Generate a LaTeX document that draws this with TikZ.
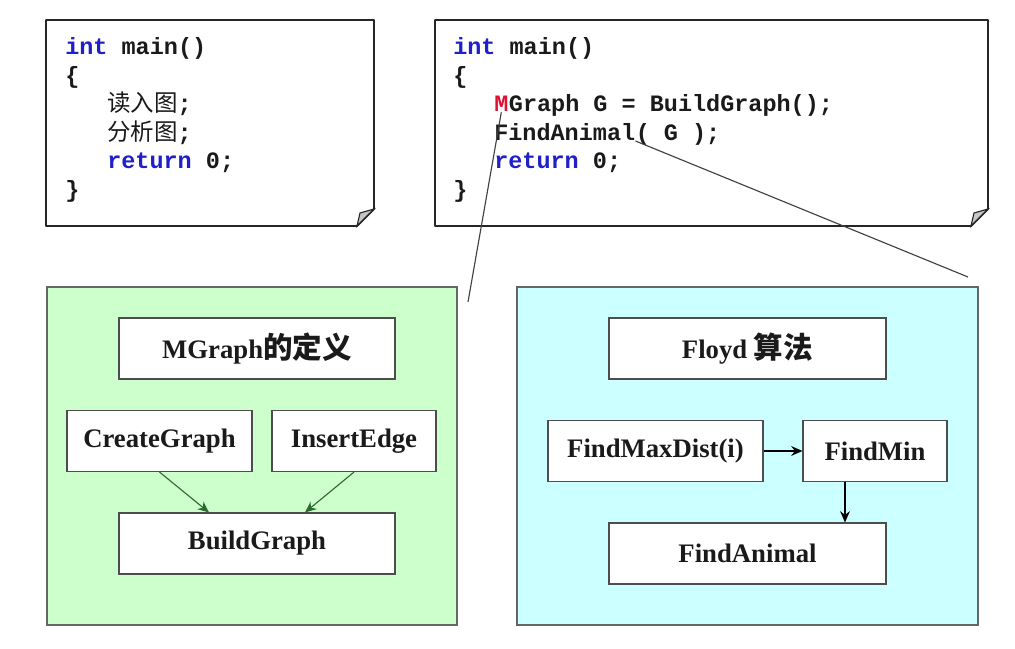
\documentclass[tikz,border=0pt]{standalone}
\usepackage{fontspec}
\setmainfont{Liberation Serif}
\setmonofont{Liberation Mono}
\newfontfamily\cjk{Noto Sans CJK SC}
\usepackage[HTML]{xcolor}
\usepackage{tikz}
\usetikzlibrary{positioning, arrows.meta}

\definecolor{panelgreen}{HTML}{CCFFCC}
\definecolor{panelcyan}{HTML}{CCFFFF}
\definecolor{kwblue}{HTML}{2020C8}
\definecolor{mred}{HTML}{E01030}
\definecolor{arrowgreen}{HTML}{2E6B2E}

\newcommand{\kw}[1]{\textcolor{kwblue}{#1}}
\newcommand{\zh}[1]{{\cjk\fontsize{21pt}{21pt}\selectfont #1}}

\begin{document}
\begin{tikzpicture}[x=0.025cm, y=-0.025cm,
    codebox/.style={draw=black!85, line width=1.3pt, fill=white, line join=round},
    fold/.style={draw=black!85, line width=0.8pt, fill=gray!45},
    codeline/.style={anchor=base west, inner sep=0pt, text=black!90,
        font=\ttfamily\bfseries\fontsize{16.7pt}{20pt}\selectfont},
    panel/.style={draw=black!60, line width=0.8pt},
    modbox/.style={draw=black!70, line width=0.8pt, fill=white, inner sep=0pt,
        minimum height=1.525cm, text=black!90,
        font=\bfseries\fontsize{19pt}{21pt}\selectfont},
    lead/.style={draw=black!75, line width=0.8pt},
    flow/.style={-{Stealth[length=8pt,width=7pt]}, line width=0.8pt}]

\fill[white] (0,0) rectangle (1015,649);
\useasboundingbox (0,0) rectangle (1015,649);

% Left code sheet
\draw[codebox] (46,20) -- (374,20) -- (374,209) -- (357,226) -- (46,226) -- cycle;
\draw[fold] (374,209) .. controls (367,211) .. (360,213) .. controls (359,219) .. (357,226) -- cycle;
\node[codeline] (a1) at (65,55) {\kw{int} main()};
\node[codeline] (a2) at (65,84) {\{};
\node[codeline] (a3) at (107,112) {{\cjk\mdseries 读入图};};
\node[codeline] (a4) at (107,141) {{\cjk\mdseries 分析图};};
\node[codeline] (a5) at (107,169) {\kw{return} 0;};
\node[codeline] (a6) at (65,198) {\}};

% Right code sheet
\draw[codebox] (435,20) -- (988,20) -- (988,209) -- (971,226) -- (435,226) -- cycle;
\draw[fold] (988,209) .. controls (981,211) .. (974,213) .. controls (973,219) .. (971,226) -- cycle;
\node[codeline] (b1) at (453,55) {\kw{int} main()};
\node[codeline] (b2) at (453,84) {\{};
\node[codeline] (mM) at (494,112) {\textcolor{mred}{M}};
\node[codeline] (b3) at (mM.base east) {Graph G = BuildGraph();};
\node[codeline] (fa) at (494,141) {FindAnimal};
\node[codeline] (b4) at (fa.base east) {( G );};
\node[codeline] (b5) at (494,169) {\kw{return} 0;};
\node[codeline] (b6) at (453,198) {\}};

% Green panel: the graph
\draw[panel, fill=panelgreen] (47,287) rectangle (457,625);
\node[modbox, minimum width=6.9cm] (defn) at (257,348.5) {MGraph\zh{的定义}};
\node[modbox, minimum width=4.625cm] (create) at (159.5,441) {CreateGraph};
\node[modbox, minimum width=4.1cm] (insert) at (354,441) {InsertEdge};
\node[modbox, minimum width=6.9cm] (build) at (257,543.5) {BuildGraph};
\draw[flow, arrowgreen] (create.south) -- ([xshift=-1.2cm]build.north);
\draw[flow, arrowgreen] (insert.south) -- ([xshift=1.2cm]build.north);

% Cyan panel: the search
\draw[panel, fill=panelcyan] (517,287) rectangle (978,625);
\node[modbox, minimum width=6.925cm] (floyd) at (747.5,348.5) {Floyd \zh{算法}};
\node[modbox, minimum width=5.375cm] (maxdist) at (655.5,451) {FindMaxDist(i)};
\node[modbox, minimum width=3.6cm] (findmin) at (875,451) {FindMin};
\node[modbox, minimum width=6.925cm] (animal) at (747.5,553.5) {FindAnimal};
\draw[flow] (maxdist.east) -- (findmin.west);
\draw[flow] ([xshift=-0.75cm]findmin.south) -- ([xshift=-0.75cm]findmin.south |- animal.north);

% Lines from the code to the panels
\coordinate (mEnd) at (468,302);
\coordinate (faEnd) at (968,277);
\draw[lead] (mM.south) -- (mEnd);
\draw[lead] (fa.base east) -- (faEnd);

\end{tikzpicture}
\end{document}
